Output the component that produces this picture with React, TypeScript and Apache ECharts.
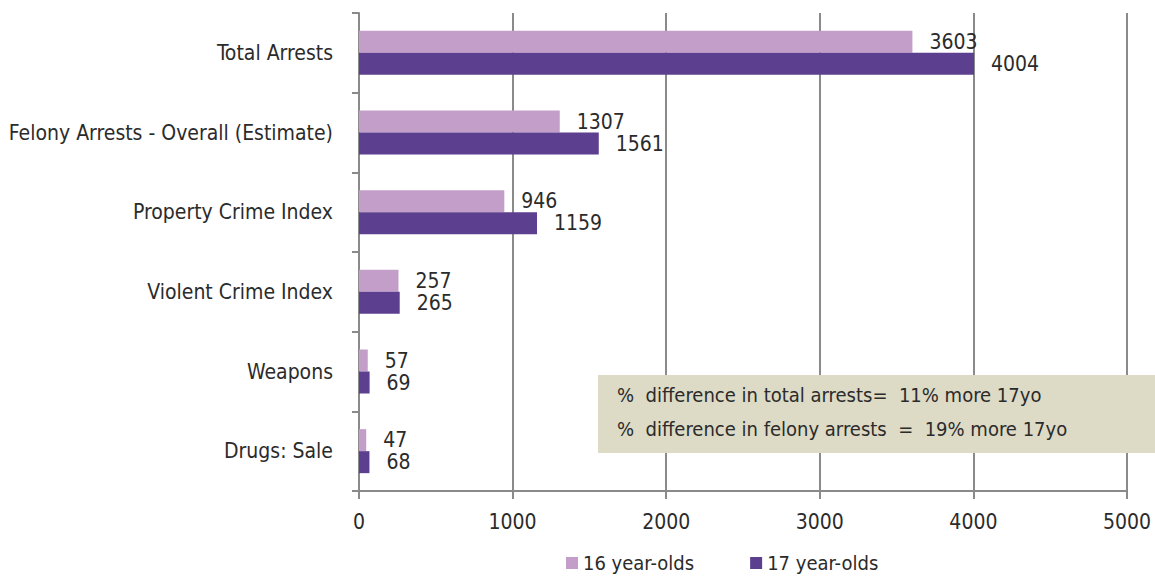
import React, { useEffect, useRef } from "react";
import * as echarts from "echarts";

const categories = [
  "Total Arrests",
  "Felony Arrests - Overall (Estimate)",
  "Property Crime Index",
  "Violent Crime Index",
  "Weapons",
  "Drugs: Sale",
];
const age16 = [3603, 1307, 946, 257, 57, 47];
const age17 = [4004, 1561, 1159, 265, 69, 68];
const seriesNames = ["16 year-olds", "17 year-olds"];
const xTicks = { min: 0, max: 5000, interval: 1000 };
const noteLines = [
  "%  difference in total arrests=  11% more 17yo",
  "%  difference in felony arrests  =  19% more 17yo",
];

const FONT = "DejaVu Sans Condensed";
const GRAY = "#8a8a8a";
const INK = "#2b2b2b";

export default function App() {
  const ref = useRef<HTMLDivElement>(null);
  useEffect(() => {
    if (!ref.current) return;
    const chart = echarts.init(ref.current, undefined, { renderer: "svg" });
    const labelStyle = {
      show: true,
      position: "right" as const,
      distance: 17,
      fontSize: 21,
      color: INK,
      fontFamily: FONT,
    };
    chart.setOption({
      animation: false,
      textStyle: { fontFamily: FONT },
      grid: { left: 359, right: 28, top: 13, bottom: 85, containLabel: false },
      legend: {
        bottom: -2,
        left: 561,
        itemWidth: 12,
        itemHeight: 12,
        itemGap: 56,
        icon: "rect",
        textStyle: { fontSize: 20, color: INK, fontFamily: FONT },
        data: seriesNames,
      },
      xAxis: {
        type: "value",
        min: xTicks.min,
        max: xTicks.max,
        interval: xTicks.interval,
        axisLine: { show: true, lineStyle: { color: GRAY, width: 2 } },
        axisTick: { show: true, length: 8, lineStyle: { color: GRAY, width: 2 } },
        splitLine: { show: true, lineStyle: { color: GRAY, width: 2 } },
        axisLabel: {
          margin: 20,
          fontSize: 21,
          color: INK,
          fontFamily: FONT,
          formatter: (v: number) => String(v),
        },
      },
      yAxis: {
        type: "category",
        inverse: true,
        data: categories,
        axisLine: { show: true, lineStyle: { color: GRAY, width: 2 } },
        axisTick: { show: true, length: 7, lineStyle: { color: GRAY, width: 2 } },
        axisLabel: { margin: 26, fontSize: 21, color: INK, fontFamily: FONT },
      },
      series: [
        {
          name: seriesNames[0],
          type: "bar",
          data: age16,
          barWidth: 22,
          barGap: "0%",
          itemStyle: { color: "#c39ec9" },
          label: labelStyle,
        },
        {
          name: seriesNames[1],
          type: "bar",
          data: age17,
          barWidth: 22,
          barGap: "0%",
          itemStyle: { color: "#5c3f8f" },
          label: labelStyle,
        },
      ],
      graphic: [
        {
          type: "rect",
          left: 598,
          top: 375,
          shape: { width: 557, height: 78 },
          style: { fill: "#dddac6" },
          z: 100,
        },
        {
          type: "text",
          left: 617,
          top: 385,
          style: { text: noteLines[0], fontSize: 20, fill: INK, fontFamily: FONT },
          z: 101,
        },
        {
          type: "text",
          left: 617,
          top: 419,
          style: { text: noteLines[1], fontSize: 20, fill: INK, fontFamily: FONT },
          z: 101,
        },
      ],
    });
    return () => chart.dispose();
  }, []);
  return <div ref={ref} style={{ width: 1155, height: 576, position: "absolute", left: 0, top: 0 }} />;
}
